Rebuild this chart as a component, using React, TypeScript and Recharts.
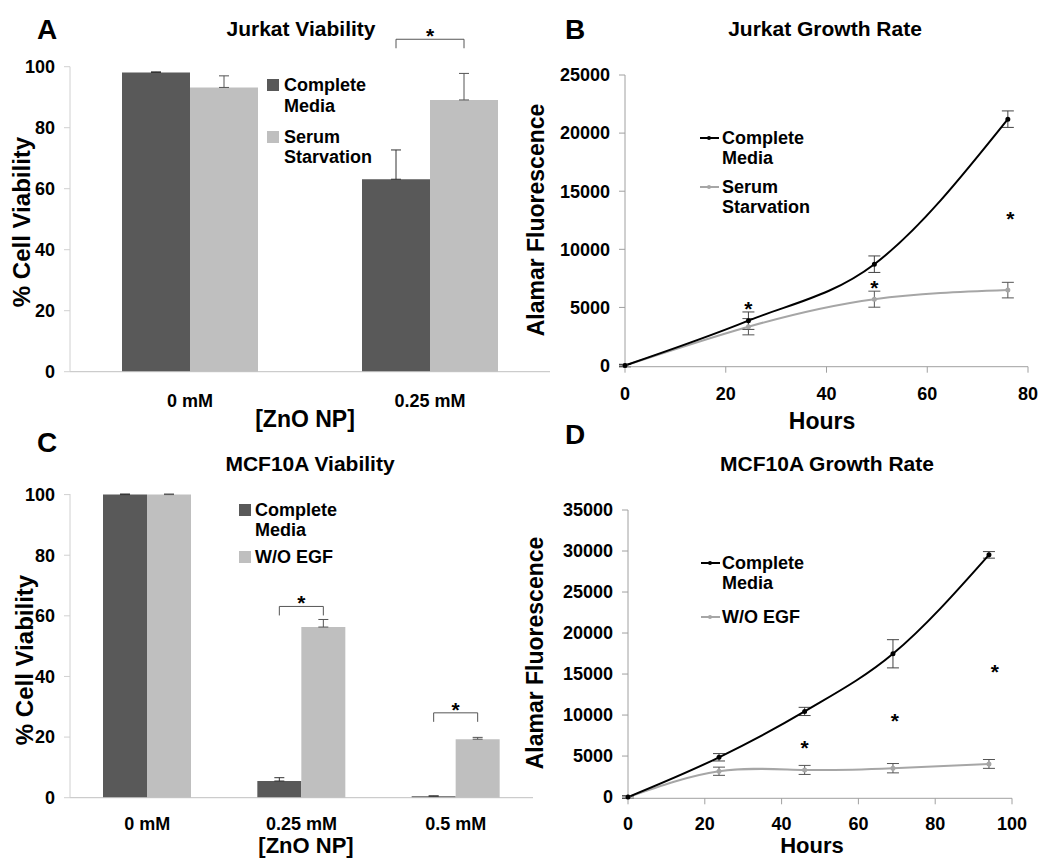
import React from "react";
import {
  ComposedChart,
  Bar,
  Line,
  Scatter,
  XAxis,
  YAxis,
  ErrorBar,
  LabelList,
} from "recharts";

// ---- Panel A: Jurkat viability ----
const jurkatDoses = ["0 mM", "0.25 mM"];
const jurkatComplete = [98.1, 63.1];
const jurkatCompleteErr = [0.2, 9.6];
const jurkatSerum = [93.2, 89.1];
const jurkatSerumErr = [3.8, 8.7];
const jurkatBrackets = [null, 109];

// ---- Panel B: Jurkat growth ----
const jurkatHours = [0, 24.5, 49.5, 76];
const jurkatGrowthComplete = [0, 3860, 8720, 21200];
const jurkatGrowthCompleteErr = [100, 750, 710, 710];
const jurkatGrowthSerum = [0, 3340, 5710, 6490];
const jurkatGrowthSerumErr = [100, 700, 690, 670];
const jurkatStarHours = [24.5, 49.5, 76.5];
const jurkatStarLevels = [5290, 7060, 13000];

// ---- Panel C: MCF10A viability ----
const mcfDoses = ["0 mM", "0.25 mM", "0.5 mM"];
const mcfComplete = [100, 5.5, 0.5];
const mcfCompleteErr = [0.2, 1.1, 0.1];
const mcfEgf = [100, 56.3, 19.3];
const mcfEgfErr = [0.2, 2.5, 0.6];
const mcfBrackets = [null, 63.1, 28];

// ---- Panel D: MCF10A growth ----
const mcfHours = [0, 23.7, 46, 69, 94];
const mcfGrowthComplete = [0, 4850, 10440, 17470, 29530];
const mcfGrowthCompleteErr = [150, 450, 500, 1720, 400];
const mcfGrowthEgf = [0, 3150, 3310, 3520, 4040];
const mcfGrowthEgfErr = [150, 500, 550, 570, 540];
const mcfStarHours = [46, 69.5, 95.5];
const mcfStarLevels = [6590, 9900, 15900];

const DARK = "#595959";
const LIGHT = "#bfbfbf";
const GREY_LINE = "#a6a6a6";
const FONT = "'Liberation Sans', Arial, sans-serif";

const jurkatRows = jurkatDoses.map((d, i) => ({
  dose: d,
  c: jurkatComplete[i],
  cErr: [0, jurkatCompleteErr[i]],
  s: jurkatSerum[i],
  sErr: [0, jurkatSerumErr[i]],
}));

const mcfRows = mcfDoses.map((d, i) => ({
  dose: d,
  c: mcfComplete[i],
  cErr: [0, mcfCompleteErr[i]],
  s: mcfEgf[i],
  sErr: [0, mcfEgfErr[i]],
}));

const jurkatGrowthRows = jurkatHours.map((h, i) => ({
  h,
  c: jurkatGrowthComplete[i],
  cErr: jurkatGrowthCompleteErr[i],
  s: jurkatGrowthSerum[i],
  sErr: jurkatGrowthSerumErr[i],
}));

const mcfGrowthRows = mcfHours.map((h, i) => ({
  h,
  c: mcfGrowthComplete[i],
  cErr: mcfGrowthCompleteErr[i],
  s: mcfGrowthEgf[i],
  sErr: mcfGrowthEgfErr[i],
}));

const jurkatStarRows = jurkatStarHours.map((h, i) => ({ h, y: jurkatStarLevels[i] }));
const mcfStarRows = mcfStarHours.map((h, i) => ({ h, y: mcfStarLevels[i] }));

const tickStyle = { fill: "#000", fontSize: 18, fontWeight: 700 };

// asterisk centred on (cx, cy)
const StarShape = (props: any) => {
  const { cx, cy } = props;
  return (
    <text x={cx} y={cy + 12} textAnchor="middle" fontSize={21} fontWeight={700} fill="#000">
      *
    </text>
  );
};

// significance bracket over a pair of bars, level in data units
const makeBracket = (levels: (number | null)[]) => (props: any) => {
  const { index, value } = props;
  const vb = props.viewBox || props;
  const lvl = levels[index];
  if (lvl == null || !value) return null;
  const top = Math.min(vb.y, vb.y + vb.height);
  const h = Math.abs(vb.height);
  const bottom = top + h;
  const ppu = h / value;
  const yLine = bottom - lvl * ppu;
  const x1 = vb.x - vb.width / 2;
  const x2 = vb.x + vb.width / 2;
  return (
    <g>
      <path
        d={`M${x1},${yLine + 9} V${yLine} H${x2} V${yLine + 9}`}
        stroke="#555"
        strokeWidth={1}
        fill="none"
      />
      <StarShape cx={(x1 + x2) / 2} cy={yLine - 8} />
    </g>
  );
};

const T = ({ x, y, size, rotate, left, children }: any) => (
  <div
    style={{
      position: "absolute",
      left: x,
      top: y,
      fontSize: size,
      fontWeight: 700,
      lineHeight: 1,
      whiteSpace: "nowrap",
      transform: left
        ? "translate(0,-50%)"
        : `translate(-50%,-50%)${rotate ? " rotate(-90deg)" : ""}`,
    }}
  >
    {children}
  </div>
);

const Square = ({ x, y, color }: any) => (
  <div style={{ position: "absolute", left: x, top: y, width: 12, height: 12, background: color }} />
);

const LineKey = ({ x, y, color }: any) => (
  <div style={{ position: "absolute", left: x, top: y - 1, width: 19, height: 2, background: color }}>
    <div
      style={{
        position: "absolute",
        left: 7,
        top: -1,
        width: 4,
        height: 4,
        borderRadius: 2,
        background: color,
      }}
    />
  </div>
);

export default function App() {
  return (
    <div
      style={{
        position: "absolute",
        left: 0,
        top: 0,
        width: 1039,
        height: 861,
        background: "#fff",
        fontFamily: FONT,
        color: "#000",
        overflow: "hidden",
      }}
    >
      {/* A */}
      <div style={{ position: "absolute", left: 0, top: 0 }}>
        <ComposedChart
          width={560}
          height={420}
          data={jurkatRows}
          margin={{ top: 66.7, right: 10, left: 0, bottom: 18.3 }}
          barGap={0}
        >
          <XAxis
            dataKey="dose"
            height={30}
            tick={tickStyle}
            tickLine={false}
            tickMargin={17}
            axisLine={{ stroke: "#c0c0c0" }}
          />
          <YAxis
            width={70}
            domain={[0, 100]}
            ticks={[0, 20, 40, 60, 80, 100]}
            tick={tickStyle}
            tickSize={6}
            tickMargin={9}
            axisLine={{ stroke: "#d0d0d0" }}
            tickLine={{ stroke: "#d0d0d0" }}
          />
          <Bar dataKey="c" fill={DARK} barSize={68} isAnimationActive={false}>
            <ErrorBar dataKey="cErr" width={5} stroke="#333" strokeWidth={1} />
          </Bar>
          <Bar dataKey="s" fill={LIGHT} barSize={68} isAnimationActive={false}>
            <ErrorBar dataKey="sErr" width={5} stroke="#555" strokeWidth={1} />
            <LabelList dataKey="s" content={makeBracket(jurkatBrackets)} />
          </Bar>
        </ComposedChart>
      </div>

      {/* B */}
      <div style={{ position: "absolute", left: 520, top: 0 }}>
        <ComposedChart
          width={519}
          height={420}
          data={jurkatGrowthRows}
          margin={{ top: 75, right: 11, left: 0, bottom: 13.3 }}
        >
          <XAxis
            dataKey="h"
            type="number"
            domain={[0, 80]}
            ticks={[0, 20, 40, 60, 80]}
            height={40}
            tick={tickStyle}
            tickSize={6}
            tickMargin={15}
            axisLine={{ stroke: "#a0a0a0" }}
            tickLine={{ stroke: "#a0a0a0" }}
          />
          <YAxis
            width={105}
            domain={[0, 25000]}
            ticks={[0, 5000, 10000, 15000, 20000, 25000]}
            tick={tickStyle}
            tickSize={6}
            tickMargin={9}
            axisLine={{ stroke: "#a0a0a0" }}
            tickLine={{ stroke: "#a0a0a0" }}
          />
          <Line
            dataKey="s"
            type="natural"
            stroke={GREY_LINE}
            strokeWidth={2}
            dot={{ r: 1.5, fill: GREY_LINE, stroke: GREY_LINE }}
            isAnimationActive={false}
          >
            <ErrorBar dataKey="sErr" width={6} stroke="#555" strokeWidth={1} direction="y" />
          </Line>
          <Line
            dataKey="c"
            type="monotone"
            stroke="#000"
            strokeWidth={2}
            dot={{ r: 1.5, fill: "#000", stroke: "#000" }}
            isAnimationActive={false}
          >
            <ErrorBar dataKey="cErr" width={6} stroke="#444" strokeWidth={1} direction="y" />
          </Line>
          <Scatter data={jurkatStarRows} dataKey="y" shape={StarShape} isAnimationActive={false} />
        </ComposedChart>
      </div>

      {/* C */}
      <div style={{ position: "absolute", left: 0, top: 420 }}>
        <ComposedChart
          width={545}
          height={441}
          data={mcfRows}
          margin={{ top: 74, right: 12, left: 0, bottom: 23.3 }}
          barGap={0}
        >
          <XAxis
            dataKey="dose"
            height={40}
            tick={tickStyle}
            tickLine={false}
            tickMargin={14}
            axisLine={{ stroke: "#c0c0c0" }}
          />
          <YAxis
            width={70}
            domain={[0, 100]}
            ticks={[0, 20, 40, 60, 80, 100]}
            tick={tickStyle}
            tickSize={6}
            tickMargin={9}
            axisLine={{ stroke: "#d0d0d0" }}
            tickLine={{ stroke: "#d0d0d0" }}
          />
          <Bar dataKey="c" fill={DARK} barSize={44} isAnimationActive={false}>
            <ErrorBar dataKey="cErr" width={5} stroke="#333" strokeWidth={1} />
          </Bar>
          <Bar dataKey="s" fill={LIGHT} barSize={44} isAnimationActive={false}>
            <ErrorBar dataKey="sErr" width={5} stroke="#555" strokeWidth={1} />
            <LabelList dataKey="s" content={makeBracket(mcfBrackets)} />
          </Bar>
        </ComposedChart>
      </div>

      {/* D */}
      <div style={{ position: "absolute", left: 520, top: 420 }}>
        <ComposedChart
          width={519}
          height={441}
          data={mcfGrowthRows}
          margin={{ top: 90, right: 27, left: 0, bottom: 22.7 }}
        >
          <XAxis
            dataKey="h"
            type="number"
            domain={[0, 100]}
            ticks={[0, 20, 40, 60, 80, 100]}
            height={40}
            tick={tickStyle}
            tickSize={6}
            tickMargin={13}
            axisLine={{ stroke: "#a0a0a0" }}
            tickLine={{ stroke: "#a0a0a0" }}
          />
          <YAxis
            width={108}
            domain={[0, 35000]}
            ticks={[0, 5000, 10000, 15000, 20000, 25000, 30000, 35000]}
            tick={tickStyle}
            tickSize={6}
            tickMargin={9}
            axisLine={{ stroke: "#a0a0a0" }}
            tickLine={{ stroke: "#a0a0a0" }}
          />
          <Line
            dataKey="s"
            type="natural"
            stroke={GREY_LINE}
            strokeWidth={2}
            dot={{ r: 1.5, fill: GREY_LINE, stroke: GREY_LINE }}
            isAnimationActive={false}
          >
            <ErrorBar dataKey="sErr" width={6} stroke="#555" strokeWidth={1} direction="y" />
          </Line>
          <Line
            dataKey="c"
            type="monotone"
            stroke="#000"
            strokeWidth={2}
            dot={{ r: 1.5, fill: "#000", stroke: "#000" }}
            isAnimationActive={false}
          >
            <ErrorBar dataKey="cErr" width={6} stroke="#444" strokeWidth={1} direction="y" />
          </Line>
          <Scatter data={mcfStarRows} dataKey="y" shape={StarShape} isAnimationActive={false} />
        </ComposedChart>
      </div>

      {/* panel letters and titles */}
      <T x={47} y={30} size={28}>A</T>
      <T x={301} y={28} size={21}>Jurkat Viability</T>
      <T x={575} y={30} size={28}>B</T>
      <T x={825} y={28} size={21}>Jurkat Growth Rate</T>
      <T x={47} y={443} size={28}>C</T>
      <T x={310} y={463} size={21}>MCF10A Viability</T>
      <T x={575} y={435} size={28}>D</T>
      <T x={827} y={463} size={21}>MCF10A Growth Rate</T>

      {/* axis titles */}
      <T x={22} y={222} size={24} rotate>% Cell Viability</T>
      <T x={305} y={419} size={23}>[ZnO NP]</T>
      <T x={536} y={220} size={23} rotate>Alamar Fluorescence</T>
      <T x={822} y={421} size={23}>Hours</T>
      <T x={25} y={660} size={24} rotate>% Cell Viability</T>
      <T x={306} y={846} size={22}>[ZnO NP]</T>
      <T x={535} y={653} size={23} rotate>Alamar Fluorescence</T>
      <T x={812} y={846} size={22}>Hours</T>

      {/* legend A */}
      <Square x={267} y={79} color={DARK} />
      <T x={284} y={85} size={18} left>Complete</T>
      <T x={284} y={106} size={18} left>Media</T>
      <Square x={267} y={131} color={LIGHT} />
      <T x={284} y={137} size={18} left>Serum</T>
      <T x={284} y={157} size={18} left>Starvation</T>

      {/* legend B */}
      <LineKey x={700} y={138} color="#000" />
      <T x={722} y={138} size={18} left>Complete</T>
      <T x={722} y={158} size={18} left>Media</T>
      <LineKey x={700} y={187} color={GREY_LINE} />
      <T x={722} y={187} size={18} left>Serum</T>
      <T x={722} y={207} size={18} left>Starvation</T>

      {/* legend C */}
      <Square x={239} y={504} color={DARK} />
      <T x={255} y={510} size={18} left>Complete</T>
      <T x={255} y={530} size={18} left>Media</T>
      <Square x={239} y={551} color={LIGHT} />
      <T x={255} y={557} size={18} left>W/O EGF</T>

      {/* legend D */}
      <LineKey x={701} y={563} color="#000" />
      <T x={722} y={563} size={18} left>Complete</T>
      <T x={722} y={583} size={18} left>Media</T>
      <LineKey x={701} y={617} color={GREY_LINE} />
      <T x={722} y={617} size={18} left>W/O EGF</T>
    </div>
  );
}
